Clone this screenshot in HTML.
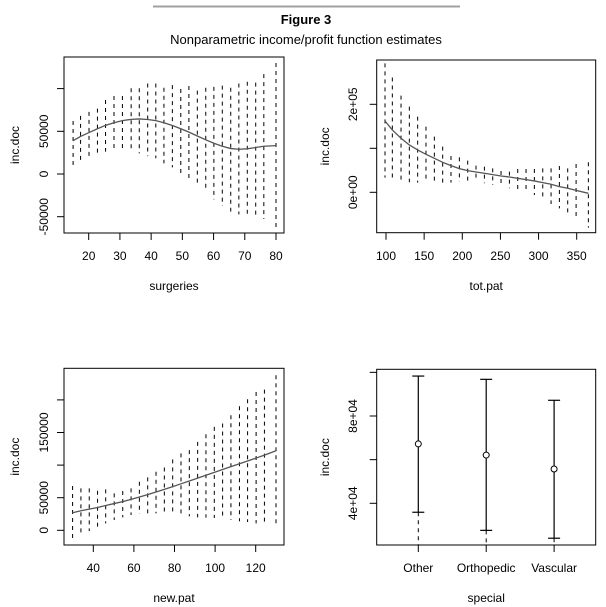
<!DOCTYPE html>
<html><head><meta charset="utf-8"><style>
body{margin:0;background:#fff;}
svg{display:block;font-family:"Liberation Sans",Arial,sans-serif;}
text{fill:#000;}
</style></head><body>
<svg id="fig" width="606" height="607" viewBox="0 0 606 607">
<line x1="153" y1="6.5" x2="460" y2="6.5" stroke="#a0a0a0" stroke-width="2"/>
<text x="306" y="24" text-anchor="middle" font-size="13" font-weight="bold">Figure 3</text>
<text x="306" y="44" text-anchor="middle" font-size="13">Nonparametric income/profit function estimates</text>
</svg>
<script>
// Panel 1: surgeries
const p1X=[15,17.4,20.1,22.8,25.4,28.1,30.8,33.6,36.2,38.9,41.5,44.1,46.8,49.5,52.1,54.8,57.5,60.1,62.8,65.5,68.1,70.8,73.5,76.1,80];
const p1Upper=[62100,68000,72700,76600,86700,91400,91400,100400,100400,106000,106000,101000,104000,99600,103000,97600,101000,102000,103500,101000,106000,108000,107000,117000,130000];
const p1Lower=[9400,16400,19500,22700,26200,27300,27300,26200,24200,21000,18400,12500,7800,800,-7000,-13700,-20700,-29700,-37500,-44100,-47300,-48000,-50000,-52700,-63000];
const p1Fit=[39000,44000,48500,53000,57000,60000,62500,64000,64500,63800,62500,60000,56800,53000,49000,44500,40000,36000,32500,29800,29000,29500,31000,32500,33200];
const p1XTicks=[20,30,40,50,60,70,80];
const p1YTicks=[-50000,0,50000,100000];
const p1YLabels=["-50000","0","50000",""];
// Panel 2: tot.pat
const p2X=[98.7,108.3,119.7,130.6,141.5,152.4,163.4,174.3,185.2,196.2,207.1,218,229,239.9,250.8,261.8,272.7,283.6,294.5,305.5,316.4,327.3,338.2,349.2,365.3];
const p2Upper=[293000,261000,219700,194700,172000,149200,126500,103800,82600,79500,72000,60600,58300,54500,48500,47000,53000,53000,53000,54500,54500,59800,54500,64400,68200];
const p2Lower=[33300,29500,25800,22700,22000,22000,22000,22000,22000,24200,24200,24200,20500,16700,12900,9100,6800,1500,-6000,-17400,-26500,-36400,-49200,-59100,-80300];
const p2Fit=[162000,141700,122700,107600,96200,86400,77300,68200,60600,53800,49200,46200,43200,40200,37100,34800,31800,28800,25800,22000,18200,12900,9100,4500,-2300];
const p2XTicks=[100,150,200,250,300,350];
const p2YTicks=[0,100000,200000];
const p2YLabels=["0e+00","","2e+05"];
// Panel 3: new.pat
const p3X=[29.8,33.9,38,42.1,46.1,50.3,54.5,58.6,62.7,66.8,70.9,75,79.1,83.2,87.3,91.4,95.5,99.6,103.7,107.8,112,116,120.2,124.3,130];
const p3Upper=[67900,64300,64300,60700,62800,56600,60200,64300,74500,81100,89800,96400,108700,117900,123000,135700,147400,158700,163800,176500,190300,201000,212200,215800,237800];
const p3Lower=[-13800,-7100,-1000,5600,10700,15800,19900,23500,25000,26000,26000,25000,23500,22400,21400,19900,19400,18900,17300,15800,13800,12800,10700,9700,7100];
const p3Fit=[27000,30000,32500,35000,38000,41000,44000,47400,51000,54800,58800,62800,67000,71300,75600,80000,84400,88800,93200,97600,102000,106300,110800,115300,122000];
const p3XTicks=[40,60,80,100,120];
const p3YTicks=[0,50000,100000,150000,200000];
const p3YLabels=["0","50000","","150000",""];
// Panel 4: special
const p4Cats=["Other","Orthopedic","Vascular"];
const p4Est=[67200,62100,55700];
const p4Upper=[98300,96800,87200];
const p4Lower=[35900,27600,24000];
const p4YTicks=[40000,60000,80000,100000];
const p4YLabels=["4e+04","","8e+04",""];

const svg=document.getElementById('fig');
const NS='http://www.w3.org/2000/svg';
function mk(tag,attrs,parent){const e=document.createElementNS(NS,tag);for(const k in attrs)e.setAttribute(k,attrs[k]);(parent||svg).appendChild(e);return e;}
function lin(d0,d1,r0,r1){return v=>r0+(v-d0)/(d1-d0)*(r1-r0);}

function frame(g,box,ys,yTicks,yLabels,yLabX,yTitleX,xTitle,xTitleY){
  const r=mk('rect',{x:box.x0,y:box.y0,width:box.x1-box.x0,height:box.y1-box.y0,fill:'none',stroke:'#000','stroke-width':1},g);
  
  
  yTicks.forEach((v,i)=>{
    const y=ys(v);
    const t=mk('line',{x1:box.x0-7,x2:box.x0,y1:y,y2:y,stroke:'#000'},g);
    
    
    if(yLabels[i]){
      const tx=mk('text',{x:yLabX,y:y,'font-size':12,'text-anchor':'middle',transform:`rotate(-90 ${yLabX} ${y})`},g);
      tx.textContent=yLabels[i];
      
      
    }
  });
  const cy=(box.y0+box.y1)/2;
  const yt=mk('text',{x:yTitleX,y:cy,'font-size':12,'text-anchor':'middle',transform:`rotate(-90 ${yTitleX} ${cy})`},g);
  yt.textContent='inc.doc';
  
  
  const xt=mk('text',{x:(box.x0+box.x1)/2,y:xTitleY,'font-size':12,'text-anchor':'middle'},g);
  xt.textContent=xTitle;
  
  
}

function contPanel(name,box,xd,yd,X,U,L,F,xTicks,yTicks,yLabels,yLabX,yTitleX,xTitle,xTickY,xTitleY){
  const g=mk('g',{});
  
  
  const xs=lin(xd[0],xd[1],xd[2],xd[3]), ys=lin(yd[0],yd[1],yd[2],yd[3]);
  frame(g,box,ys,yTicks,yLabels,yLabX,yTitleX,xTitle,xTitleY);
  xTicks.forEach(v=>{
    const x=xs(v);
    const t=mk('line',{x1:x,x2:x,y1:box.y1,y2:box.y1+7,stroke:'#000'},g);
    
    
    const tx=mk('text',{x:x,y:xTickY,'font-size':12,'text-anchor':'middle'},g);
    tx.textContent=String(v);
    
    
  });
  X.forEach((v,i)=>{
    const b=mk('line',{x1:xs(v),x2:xs(v),y1:ys(U[i]),y2:ys(L[i]),stroke:'#000','stroke-dasharray':'4,4'},g);
    
    
  });
  const p=mk('polyline',{points:X.map((v,i)=>xs(v)+','+ys(F[i])).join(' '),fill:'none',stroke:'#555','stroke-width':1.3},g);
  
  
}

contPanel('panel-surgeries',{x0:64,x1:284,y0:57,y1:233},[20,80,88.7,276],[0,50000,174,131.3],
  p1X,p1Upper,p1Lower,p1Fit,p1XTicks,p1YTicks,p1YLabels,48,19,'surgeries',260,290);
contPanel('panel-tot-pat',{x0:376.7,x1:595.7,y0:60,y1:232.7},[100,350,386,576.7],[0,100000,192.3,148.3],
  p2X,p2Upper,p2Lower,p2Fit,p2XTicks,p2YTicks,p2YLabels,357,329,'tot.pat',260,290);
contPanel('panel-new-pat',{x0:64,x1:284,y0:368.3,y1:545},[40,120,93.3,255.7],[0,50000,530.3,497.7],
  p3X,p3Upper,p3Lower,p3Fit,p3XTicks,p3YTicks,p3YLabels,48,19,'new.pat',572,602);

(function(){
  const box={x0:376.7,x1:595.7,y0:369.3,y1:545};
  const g=mk('g',{});
  
  
  const ys=lin(40000,80000,503.3,416);
  const xs=i=>418.3+i*67.9;
  frame(g,box,ys,p4YTicks,p4YLabels,357,329,'special',602);
  p4Cats.forEach((c,i)=>{
    const x=xs(i);
    const t=mk('line',{x1:x,x2:x,y1:box.y1,y2:box.y1+7,stroke:'#000'},g);
    
    
    const tx=mk('text',{x:x,y:572,'font-size':12,'text-anchor':'middle'},g);
    tx.textContent=c;
    
    
    const w=mk('line',{x1:x,x2:x,y1:ys(p4Upper[i]),y2:ys(p4Lower[i]),stroke:'#000','stroke-width':1.2},g);
    
    
    [p4Upper[i],p4Lower[i]].forEach(v=>{
      const cap=mk('line',{x1:x-6,x2:x+6,y1:ys(v),y2:ys(v),stroke:'#000','stroke-width':1.2},g);
      
      
    });
    if(ys(p4Lower[i])<box.y1-3){
      const d=mk('line',{x1:x,x2:x,y1:ys(p4Lower[i]),y2:box.y1,stroke:'#000','stroke-dasharray':'4,4'},g);
      
      
    }
    const pt=mk('circle',{cx:x,cy:ys(p4Est[i]),r:3,fill:'#fff',stroke:'#000'},g);
    
    
  });
})();
</script>
</body></html>
